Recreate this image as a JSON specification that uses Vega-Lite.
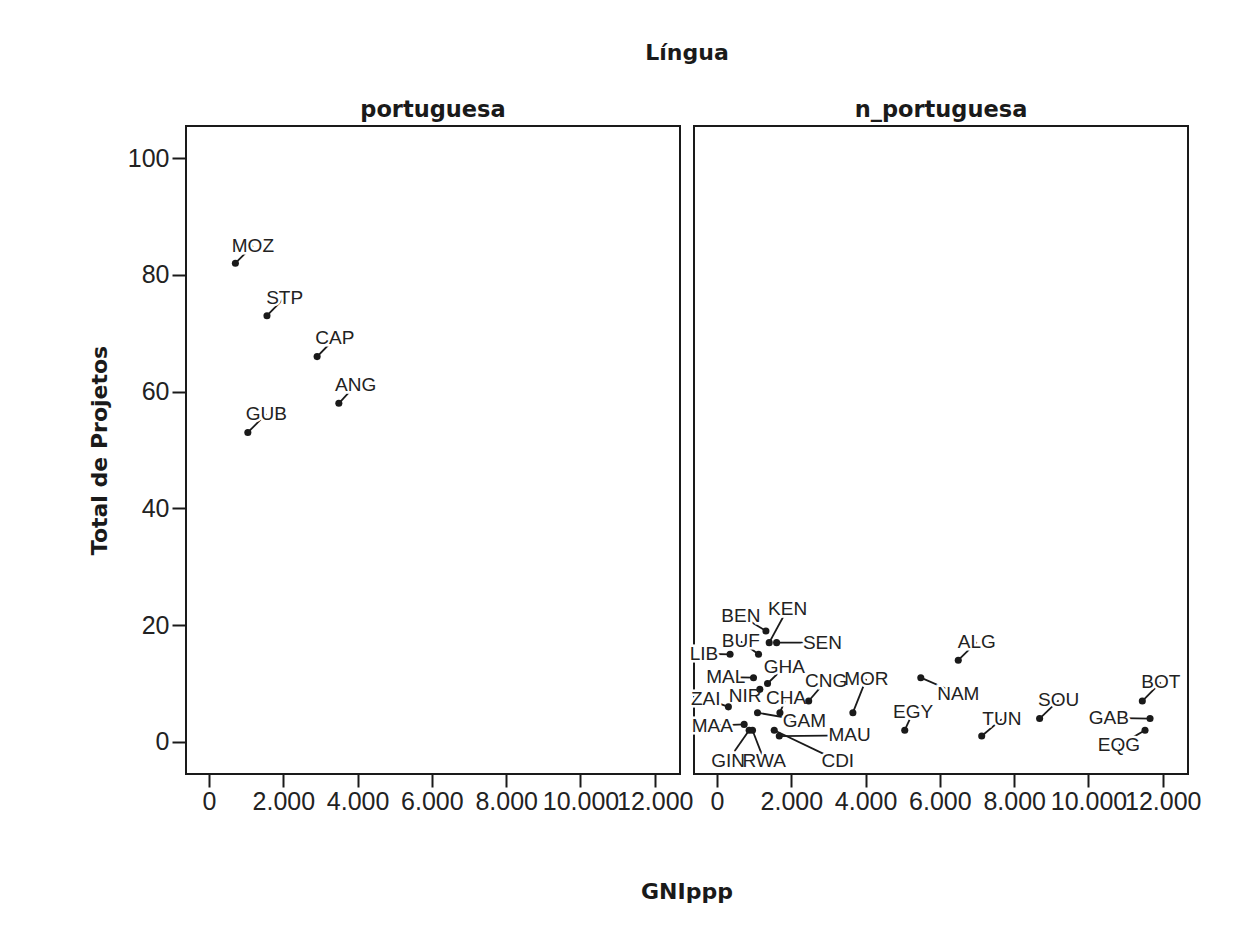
{
  "$schema": "https://vega.github.io/schema/vega-lite/v6.json",
  "padding": {"left": 88, "top": 42, "right": 5, "bottom": 5},
  "background": "white",
  "bounds": "flush",
  "data": {"values": [
    {"pais": "MOZ", "lingua": "portuguesa", "gni": 710, "proj": 82, "lx": 1181, "ly": 85.0},
    {"pais": "STP", "lingua": "portuguesa", "gni": 1560, "proj": 73, "lx": 2035, "ly": 76.1},
    {"pais": "CAP", "lingua": "portuguesa", "gni": 2910, "proj": 66, "lx": 3386, "ly": 69.1},
    {"pais": "ANG", "lingua": "portuguesa", "gni": 3495, "proj": 58, "lx": 3946, "ly": 61.1},
    {"pais": "GUB", "lingua": "portuguesa", "gni": 1045, "proj": 53, "lx": 1541, "ly": 56.2},
    {"pais": "BEN", "lingua": "n_portuguesa", "gni": 1316, "proj": 19, "lx": 641, "ly": 21.6},
    {"pais": "KEN", "lingua": "n_portuguesa", "gni": 1405, "proj": 17, "lx": 1900, "ly": 22.8},
    {"pais": "SEN", "lingua": "n_portuguesa", "gni": 1604, "proj": 17, "lx": 2838, "ly": 17.0},
    {"pais": "BUF", "lingua": "n_portuguesa", "gni": 1117, "proj": 15, "lx": 641, "ly": 17.2},
    {"pais": "LIB", "lingua": "n_portuguesa", "gni": 351, "proj": 15, "lx": -351, "ly": 15.1},
    {"pais": "GHA", "lingua": "n_portuguesa", "gni": 1360, "proj": 10, "lx": 1811, "ly": 12.8},
    {"pais": "MAL", "lingua": "n_portuguesa", "gni": 982, "proj": 11, "lx": 235, "ly": 11.1},
    {"pais": "ZAI", "lingua": "n_portuguesa", "gni": 306, "proj": 6, "lx": -306, "ly": 7.4},
    {"pais": "NIR", "lingua": "n_portuguesa", "gni": 1153, "proj": 9, "lx": 757, "ly": 7.8},
    {"pais": "CHA", "lingua": "n_portuguesa", "gni": 1694, "proj": 5, "lx": 1857, "ly": 7.5},
    {"pais": "CNG", "lingua": "n_portuguesa", "gni": 2468, "proj": 7, "lx": 2938, "ly": 10.5},
    {"pais": "MOR", "lingua": "n_portuguesa", "gni": 3658, "proj": 5, "lx": 4019, "ly": 10.8},
    {"pais": "MAA", "lingua": "n_portuguesa", "gni": 730, "proj": 3, "lx": -127, "ly": 2.8},
    {"pais": "GAM", "lingua": "n_portuguesa", "gni": 1090, "proj": 5, "lx": 2351, "ly": 3.6},
    {"pais": "MAU", "lingua": "n_portuguesa", "gni": 1676, "proj": 1, "lx": 3568, "ly": 1.1},
    {"pais": "CDI", "lingua": "n_portuguesa", "gni": 1540, "proj": 2, "lx": 3251, "ly": -3.2},
    {"pais": "GIN", "lingua": "n_portuguesa", "gni": 865, "proj": 2, "lx": 297, "ly": -3.2},
    {"pais": "RWA", "lingua": "n_portuguesa", "gni": 955, "proj": 2, "lx": 1270, "ly": -3.2},
    {"pais": "ALG", "lingua": "n_portuguesa", "gni": 6495, "proj": 14, "lx": 6992, "ly": 17.1},
    {"pais": "NAM", "lingua": "n_portuguesa", "gni": 5486, "proj": 11, "lx": 6495, "ly": 8.2},
    {"pais": "EGY", "lingua": "n_portuguesa", "gni": 5054, "proj": 2, "lx": 5278, "ly": 5.1},
    {"pais": "TUN", "lingua": "n_portuguesa", "gni": 7126, "proj": 1, "lx": 7668, "ly": 3.9},
    {"pais": "SOU", "lingua": "n_portuguesa", "gni": 8685, "proj": 4, "lx": 9197, "ly": 7.1},
    {"pais": "BOT", "lingua": "n_portuguesa", "gni": 11450, "proj": 7, "lx": 11946, "ly": 10.2},
    {"pais": "GAB", "lingua": "n_portuguesa", "gni": 11658, "proj": 4, "lx": 10549, "ly": 4.1},
    {"pais": "EQG", "lingua": "n_portuguesa", "gni": 11523, "proj": 2, "lx": 10819, "ly": -0.6}
  ]},
  "title": {"text": "GNIppp", "orient": "bottom", "anchor": "middle", "frame": "group", "dx": 501, "fontSize": 22, "font": "DejaVu Sans", "fontWeight": "bold", "color": "#1a1a1a", "offset": 68},
  "facet": {
    "column": {
      "field": "lingua", "type": "nominal", "sort": ["portuguesa", "n_portuguesa"], "title": "Língua",
      "header": {"labelFontSize": 22.5, "labelFont": "DejaVu Sans", "labelFontWeight": "bold", "labelColor": "#1a1a1a", "labelPadding": 5,
                 "titleFontSize": 22, "titleFont": "DejaVu Sans", "titleFontWeight": "bold", "titleColor": "#1a1a1a", "titlePadding": 23}
    }
  },
  "spacing": 14,
  "spec": {
    "width": 494,
    "height": 648,
    "encoding": {
      "x": {"field": "gni", "type": "quantitative", "title": null,
            "scale": {"domain": [-620, 12680], "nice": false, "zero": false},
            "axis": {"values": [0, 2000, 4000, 6000, 8000, 10000, 12000], "labelOverlap": false, "labelExpr": "replace(format(datum.value, ','), ',', '.')"}},
      "y": {"field": "proj", "type": "quantitative", "title": "Total de Projetos",
            "scale": {"domain": [-5.5, 105.5], "nice": false, "zero": false},
            "axis": {"values": [0, 20, 40, 60, 80, 100]}}
    },
    "layer": [
      {"mark": {"type": "rule", "color": "#1a1a1a", "strokeWidth": 1.8},
       "encoding": {"x2": {"field": "lx"}, "y2": {"field": "ly"}}},
      {"mark": {"type": "text", "font": "Liberation Sans", "fontSize": 19, "stroke": "white", "strokeWidth": 5, "fill": "white", "align": "center", "baseline": "middle"},
       "encoding": {"x": {"field": "lx", "type": "quantitative", "title": null}, "y": {"field": "ly", "type": "quantitative", "title": "Total de Projetos"}, "text": {"field": "pais"}}},
      {"mark": {"type": "point", "filled": true, "size": 50, "color": "#1a1a1a", "opacity": 1}},
      {"mark": {"type": "text", "font": "Liberation Sans", "fontSize": 19, "fill": "#222222", "align": "center", "baseline": "middle"},
       "encoding": {"x": {"field": "lx", "type": "quantitative", "title": null}, "y": {"field": "ly", "type": "quantitative", "title": "Total de Projetos"}, "text": {"field": "pais"}}}
    ]
  },
  "config": {
    "view": {"stroke": "#1a1a1a", "strokeWidth": 2},
    "axis": {"grid": false, "domain": false, "tickColor": "#1a1a1a", "tickWidth": 2,
             "labelFont": "Liberation Sans", "labelFontSize": 25, "labelColor": "#222222",
             "titleFont": "DejaVu Sans", "titleFontSize": 22, "titleFontWeight": "bold", "titleColor": "#1a1a1a"},
    "axisX": {"tickSize": 13, "labelPadding": 2},
    "axisY": {"tickSize": 14, "labelPadding": 3, "titlePadding": 16}
  }
}
